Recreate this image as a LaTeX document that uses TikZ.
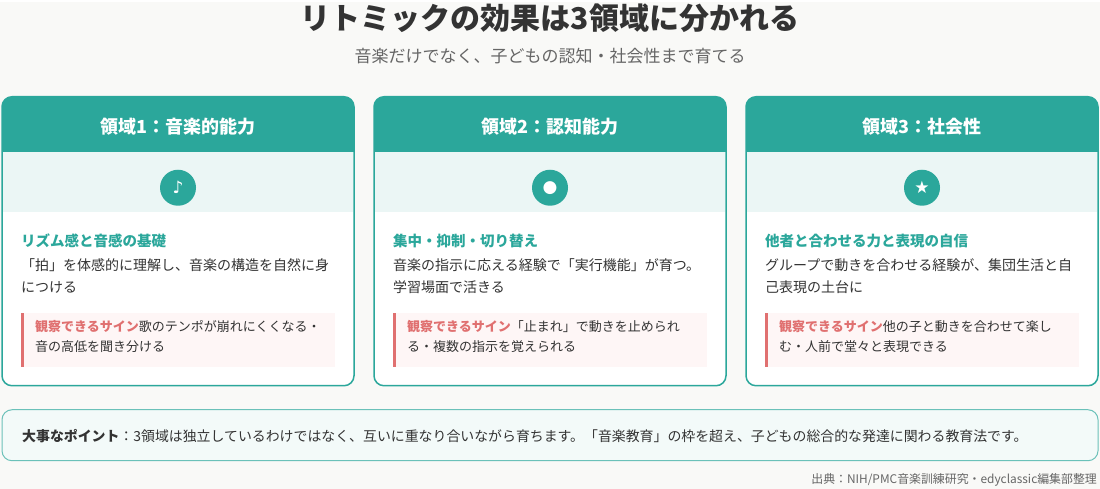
\documentclass[tikz,border=0pt]{standalone}
\usepackage{fontspec}
\setmainfont{Noto Sans CJK JP}
\newfontfamily\sym{DejaVu Sans}
\definecolor{teal1}{HTML}{2BA79B}
\definecolor{band}{HTML}{EBF6F5}
\definecolor{bg}{HTML}{F9F9F7}
\definecolor{txt}{HTML}{333333}
\definecolor{red1}{HTML}{E07070}
\definecolor{pink}{HTML}{FEF6F6}
\definecolor{gr}{HTML}{666666}
\begin{document}
\begin{tikzpicture}[x=1pt,y=-1pt,
  card/.style={draw=teal1,line width=1.5pt,rounded corners=10pt},
  body/.style={anchor=north west,align=left,text=txt,font=\fontsize{14}{22}\selectfont,inner sep=0},
  sub/.style={anchor=west,text=teal1,font=\fontsize{14.5}{16}\selectfont\bfseries,inner sep=0},
  sign/.style={anchor=north west,align=left,text=txt,font=\fontsize{13}{20}\selectfont,inner sep=0}]
\fill[bg] (0,0) rectangle (1100,487);
\node[font=\fontsize{30}{34}\selectfont\bfseries,text=txt] (title) at (550,16) {リトミックの効果は3領域に分かれる};
\node[font=\fontsize{17}{20}\selectfont,text=gr] (subt) at (550,54) {音楽だけでなく、子どもの認知・社会性まで育てる};
\foreach \i/\x/\head/\ic/\st/\la/\lb/\sa/\sb in {
 1/2/{領域1：音楽的能力}/♪/{リズム感と音感の基礎}/{「拍」を体感的に理解し、音楽の構造を自然に身}/{につける}/{歌のテンポが崩れにくくなる・}/{音の高低を聞き分ける},
 2/374/{領域2：認知能力}/●/{集中・抑制・切り替え}/{音楽の指示に応える経験で「実行機能」が育つ。}/{学習場面で活きる}/{「止まれ」で動きを止められ}/{る・複数の指示を覚えられる},
 3/746/{領域3：社会性}/★/{他者と合わせる力と表現の自信}/{グループで動きを合わせる経験が、集団生活と自}/{己表現の土台に}/{他の子と動きを合わせて楽し}/{む・人前で堂々と表現できる}} {
  \fill[white,rounded corners=10pt] (\x,95) rectangle ++(352,289);
  \fill[teal1,rounded corners=10pt] (\x,95) rectangle ++(352,30);
  \fill[teal1] (\x,110) rectangle ++(352,40);
  \fill[band] (\x+0.8,150) rectangle ++(350.4,60);
  \draw[card] (\x,95) rectangle ++(352,289);
  \node[font=\fontsize{18}{22}\selectfont\bfseries,text=white] (h\i) at (\x+176,125) {\head};
  \node[circle,fill=teal1,minimum size=36pt,inner sep=0,text=white,font=\sym\fontsize{17}{18}\selectfont] (ic\i) at (\x+176,186) {\ic};
  \node[sub] (s\i) at (\x+19,239) {\st};
  \node[body] (b\i) at (\x+19,257) {\la\\\lb};
  \fill[pink] (\x+19,311) rectangle ++(314,54);
  \fill[red1] (\x+19,311) rectangle ++(2.5,54);
  \node[sign] (g\i) at (\x+33,318) {\textcolor{red1}{\bfseries 観察できるサイン}\sa\\\sb};
}
\draw[draw=teal1!70,line width=1pt,fill=band!60,rounded corners=10pt] (2,408) rectangle (1098,459);
\node[anchor=west,text=txt,font=\fontsize{13.9}{16}\selectfont,inner sep=0] (pt) at (22,434) {{\bfseries 大事なポイント}：3領域は独立しているわけではなく、互いに重なり合いながら育ちます。「音楽教育」の枠を超え、子どもの総合的な発達に関わる教育法です。};
\node[anchor=east,text=gr,font=\fontsize{11.9}{14}\selectfont,inner sep=0] (src) at (1097,478) {出典：NIH/PMC音楽訓練研究・edyclassic編集部整理};
\end{tikzpicture}
\end{document}
